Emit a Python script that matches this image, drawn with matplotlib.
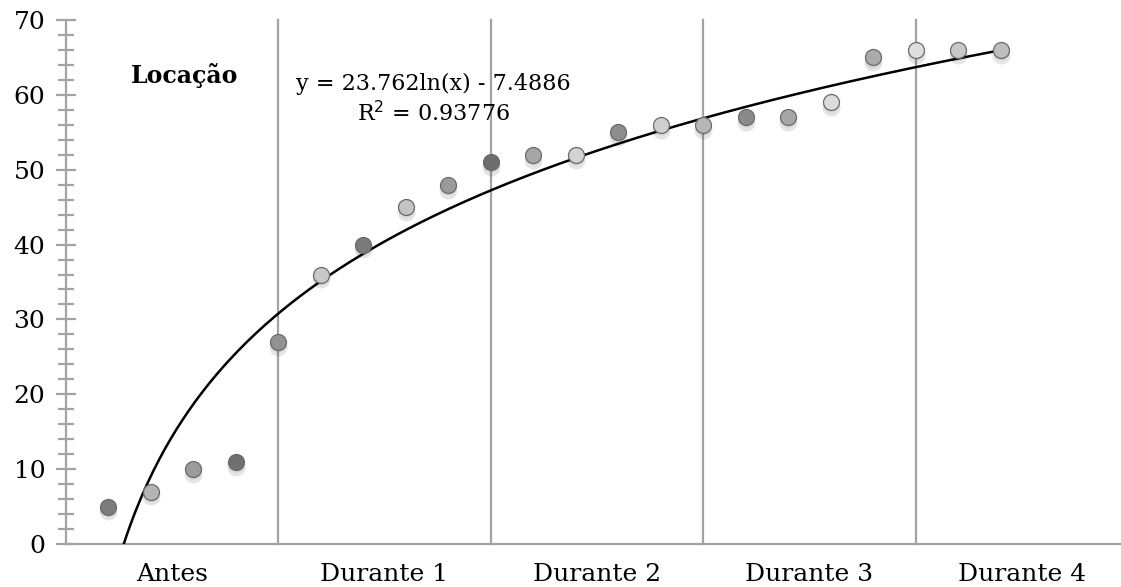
import numpy as np
import matplotlib
matplotlib.use("Agg")
import matplotlib.pyplot as plt
from matplotlib.transforms import offset_copy

# data
x_pos = list(range(1, 23))
values = [5, 7, 10, 11, 27, 36, 40, 45, 48, 51, 52, 52, 55, 56, 56, 57, 57, 59, 65, 66, 66, 66]
shades = ['#7c7c7c', '#b4b4b4', '#9c9c9c', '#707070', '#929292', '#c8c8c8', '#7a7a7a',
          '#c4c4c4', '#9a9a9a', '#6e6e6e', '#a6a6a6', '#d2d2d2', '#8e8e8e', '#cfcfcf',
          '#b6b6b6', '#8a8a8a', '#a6a6a6', '#dcdcdc', '#aaaaaa', '#dedede', '#c8c8c8', '#bebebe']
groups = ['Antes', 'Durante 1', 'Durante 2', 'Durante 3', 'Durante 4']
group_centers = [2.5, 7.5, 12.5, 17.5, 22.5]
dividers = [5, 10, 15, 20]
fit_a = 23.762
fit_b = -7.4886
fit_r2 = 0.93776

plt.rcParams['font.family'] = ['DejaVu Serif']

W, H = 1121, 587
fig = plt.figure(figsize=(W / 100, H / 100), dpi=100)
ax = fig.add_axes([65.5 / W, (H - 544) / H, 1062.5 / W, 524 / H])
ax.set_xlim(0, 25)
ax.set_ylim(0, 70)

gray = '#a3a3a3'
for d in dividers:
    ax.plot([d, d], [0, 70], color=gray, lw=1.6, zorder=1, clip_on=False)

# log trendline
x0 = np.exp(-fit_b / fit_a)
xs = np.linspace(x0, 22, 300)
ax.plot(xs, fit_a * np.log(xs) + fit_b, color='black', lw=1.8, zorder=3)

# points, each with a soft shadow just below
shadow_tr = offset_copy(ax.transData, fig=fig, x=0, y=-3.5, units='points')
ax.plot(x_pos, values, 'o', ms=13, mfc='black', mec='none', alpha=0.10,
        transform=shadow_tr, zorder=2)
ax.plot(x_pos, values, 'o', ms=12, mfc='black', mec='none', alpha=0.06,
        transform=offset_copy(ax.transData, fig=fig, x=0, y=-1.5, units='points'), zorder=2)
for xp, v, c in zip(x_pos, values, shades):
    ax.plot(xp, v, 'o', ms=11.5, mfc=c, mec='#6a6a6a', mew=0.9, zorder=4)

ax.text(2.8, 62.6, 'Locação', fontsize=17, fontweight='bold', ha='center', va='center')
ax.text(8.65, 59.4, 'y = 23.762ln(x) - 7.4886\nR$^2$ = %.5f' % fit_r2, fontsize=16,
        ha='center', va='center', multialignment='center', linespacing=1.3)

for s in ['top', 'right']:
    ax.spines[s].set_visible(False)
for s in ['left', 'bottom']:
    ax.spines[s].set_color(gray)
    ax.spines[s].set_linewidth(1.6)

ax.set_yticks(range(0, 71, 10))
ax.set_yticks(range(0, 71, 2), minor=True)
ax.tick_params(axis='y', which='major', direction='inout', length=15, width=1.6,
               color=gray, labelsize=18, pad=7)
ax.tick_params(axis='y', which='minor', direction='inout', length=11, width=1.6, color=gray)
ax.set_xticks(group_centers)
ax.set_xticklabels(groups)
ax.tick_params(axis='x', length=0, labelsize=18, pad=14)

fig.savefig('out.png', dpi=100)
